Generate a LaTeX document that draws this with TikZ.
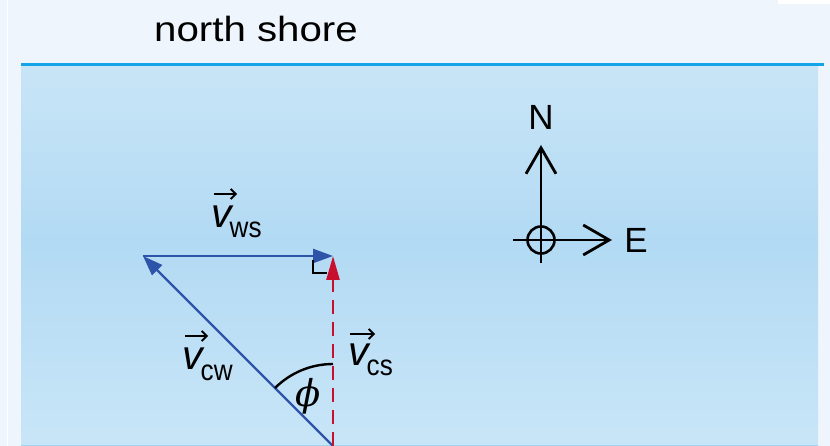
\documentclass[tikz,border=0pt]{standalone}
\usepackage{fontspec}
\usepackage{graphicx}
\setmainfont{Liberation Sans}
\newfontfamily\phifont{DejaVu Serif}
\usetikzlibrary{arrows.meta}
\definecolor{bgpale}{RGB}{238,245,252}
\definecolor{shoreblue}{RGB}{18,164,230}
\definecolor{vecblue}{RGB}{46,84,170}
\definecolor{vecred}{RGB}{200,16,46}
\definecolor{edgeblue}{RGB}{160,214,242}
\pgfdeclareverticalshading{waterband}{100bp}{
  rgb(0bp)=(0.835,0.925,0.980);
  rgb(10bp)=(0.835,0.925,0.980);
  rgb(52bp)=(0.700,0.855,0.955);
  rgb(90bp)=(0.840,0.925,0.975);
  rgb(100bp)=(0.840,0.925,0.975)}
\tikzset{
  vecline/.style={draw=vecblue, line width=2.4pt, -{Triangle[length=20pt,width=14pt]}},
  redvec/.style={draw=vecred, line width=2.6pt, dash pattern=on 14pt off 8pt, -{Triangle[length=24pt,width=13pt]}},
  compass/.style={draw=black, line width=2.8pt, -{Straight Barb[length=26pt,width=30pt,line width=2.8pt]}},
  overarrow/.style={draw=black, line width=1.8pt, -{Straight Barb[length=5pt,width=10pt,line width=1.8pt]}},
  lbl/.style={font=\fontsize{35}{37}\selectfont, inner sep=0pt},
  veclbl/.style={inner sep=0pt}
}
\newcommand{\vsym}[1]{{\fontsize{41}{41}\selectfont\itshape v}\kern-2pt\raisebox{-10pt}{\fontsize{29}{29}\selectfont\scalebox{0.9}[1]{#1}}}
\begin{document}
\begin{tikzpicture}[x=1pt,y=-1pt]
\useasboundingbox (0,0) rectangle (830,446);
\fill[bgpale] (0,0) rectangle (830,446);
\fill[white] (778,0) rectangle (830,4);
\draw[white, line width=1pt] (7,0) -- (7,446);
\shade[shading=waterband] (21,67) rectangle (818,446);
\draw[edgeblue, line width=1.2pt] (21,445.4) -- (818,445.4);
\draw[shoreblue, line width=3pt] (21,65) -- (824,65);
\node[lbl, anchor=base west, xscale=1.15] (shore) at (154,42) {north shore};
% vectors
\coordinate (O) at (333,446);
\coordinate (W) at (143,256);
\coordinate (T) at (333,256);
\draw[vecline] (W) -- (T);
\draw[vecline] (O) -- (W);
\draw[redvec] (O) -- (T);
% right angle marker
\draw[black, line width=2pt] (313,260) -- (313,273) -- (327,273);
% angle arc
\draw[black, line width=2.4pt] ([shift={(90:-82)}]O) arc[start angle=-90, end angle=-135, radius=82];
\node[veclbl, font=\fontsize{37}{39}\selectfont\phifont\itshape] (phi) at (308,396) {ϕ};
% labels
\node[veclbl, anchor=base west] (vws) at (211,228) {\vsym{ws}};
\node[veclbl, anchor=base west] (vcw) at (182,370) {\vsym{cw}};
\node[veclbl, anchor=base west] (vcs) at (348,365) {\vsym{cs}};
\draw[overarrow] ([shift={(3,-34)}]vws.base west) -- ++(23,0);
\draw[overarrow] ([shift={(3,-34)}]vcw.base west) -- ++(23,0);
\draw[overarrow] ([shift={(2,-31)}]vcs.base west) -- ++(25,0);
% compass
\coordinate (C) at (541,240);
\draw[black, line width=2.6pt] (C) circle[radius=13.5];
\draw[compass] (541,263) -- (541,145);
\draw[compass] (513,240) -- (612,240);
\node[lbl] (N) at (541,117) {N};
\node[lbl] (E) at (636,240) {E};
\end{tikzpicture}
\end{document}
